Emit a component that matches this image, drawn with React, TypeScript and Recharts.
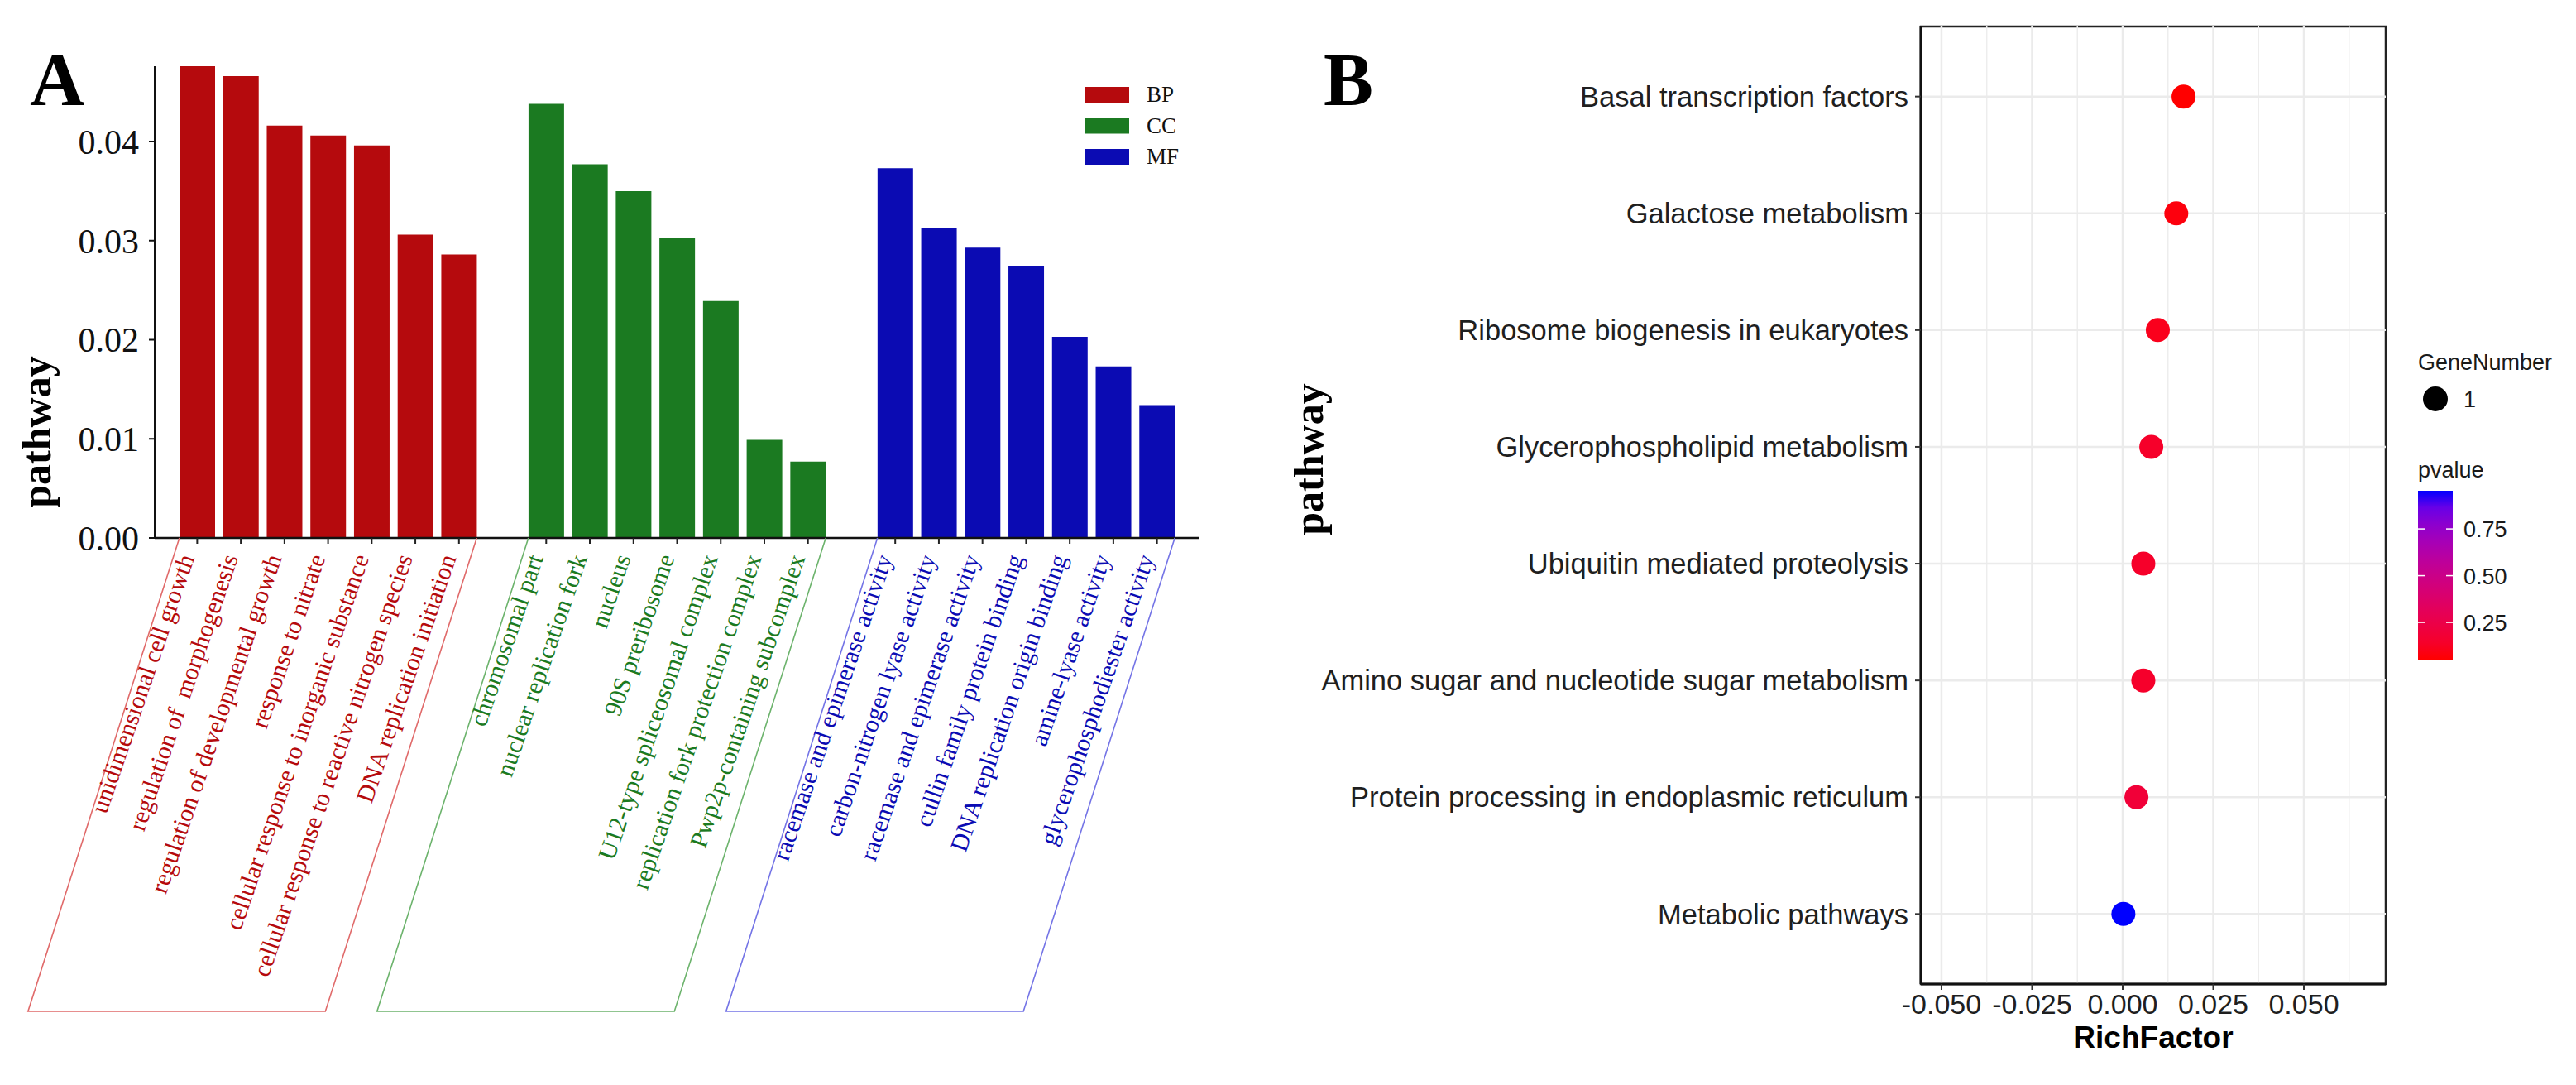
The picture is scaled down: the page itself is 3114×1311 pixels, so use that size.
import { BarChart, Bar, Cell, XAxis, YAxis, ScatterChart, Scatter, ReferenceLine, ReferenceArea } from "recharts"

// ---- panel A: GO enrichment ----
const BP_TERMS = [
  "unidimensional cell growth",
  "regulation of  morphogenesis",
  "regulation of developmental growth",
  "response to nitrate",
  "cellular response to inorganic substance",
  "cellular response to reactive nitrogen species",
  "DNA replication initiation"
]
const BP_VALUES = [0.0476, 0.0466, 0.0416, 0.0406, 0.0396, 0.0306, 0.0286]

const CC_TERMS = [
  "chromosomal part",
  "nuclear replication fork",
  "nucleus",
  "90S preribosome",
  "U12-type spliceosomal complex",
  "replication fork protection complex",
  "Pwp2p-containing subcomplex"
]
const CC_VALUES = [0.0438, 0.0377, 0.035, 0.0303, 0.0239, 0.0099, 0.0077]

const MF_TERMS = [
  "racemase and epimerase activity",
  "carbon-nitrogen lyase activity",
  "racemase and epimerase activity",
  "cullin family protein binding",
  "DNA replication origin binding",
  "amine-lyase activity",
  "glycerophosphodiester activity"
]
const MF_VALUES = [0.0373, 0.0313, 0.0293, 0.0274, 0.0203, 0.0173, 0.0134]

const GO_Y_TICKS = [0, 0.01, 0.02, 0.03, 0.04]

// ---- panel B: KEGG enrichment ----
const PATHWAYS = [
  "Basal transcription factors",
  "Galactose metabolism",
  "Ribosome biogenesis in eukaryotes",
  "Glycerophospholipid metabolism",
  "Ubiquitin mediated proteolysis",
  "Amino sugar and nucleotide sugar metabolism",
  "Protein processing in endoplasmic reticulum",
  "Metabolic pathways"
]
const RICH_FACTOR = [0.0168, 0.0148, 0.0097, 0.0079, 0.0057, 0.0057, 0.0038, 0.0002]
const P_VALUES = [0.051, 0.07, 0.1, 0.14, 0.14, 0.145, 0.19, 0.954]
const GENE_NUMBER = [1, 1, 1, 1, 1, 1, 1, 1]
const RICH_TICKS = [-0.05, -0.025, 0, 0.025, 0.05]
const RICH_MINOR = [-0.0375, -0.0125, 0.0125, 0.0375, 0.0625]
const P_TICKS = [0.25, 0.5, 0.75]

const SERIF = "'Liberation Serif', 'Times New Roman', serif"
const SANS = "'Liberation Sans', Arial, sans-serif"

const GROUPS = [
  { key: "BP", color: "#b50a0d", bracket: "#e06a6a", terms: BP_TERMS, values: BP_VALUES },
  { key: "CC", color: "#1b7a21", bracket: "#6cb36c", terms: CC_TERMS, values: CC_VALUES },
  { key: "MF", color: "#0b0bb3", bracket: "#7474e6", terms: MF_TERMS, values: MF_VALUES }
]

type GoRow = {
  id: string
  value: number | null
  term?: string
  color?: string
  bracket?: string
  pos?: number
  n?: number
}

const goData: GoRow[] = []
GROUPS.forEach((g, gi) => {
  if (gi > 0) goData.push({ id: `gap${gi}`, value: null })
  g.terms.forEach((t, i) =>
    goData.push({
      id: `${g.key}${i}`,
      value: g.values[i],
      term: t,
      color: g.color,
      bracket: g.bracket,
      pos: i,
      n: g.terms.length
    })
  )
})
const goById: Record<string, GoRow> = {}
goData.forEach(d => (goById[d.id] = d))

// layout of panel A
const A_W = 1500
const A_H = 1311
const A_LEFT = 187
const A_RIGHT = 1450
const A_PAD = 25
const BAR = 43
const STEP = (A_RIGHT - A_LEFT - 2 * A_PAD) / goData.length
const BRACKET_DEPTH = 572
const BRACKET_SLANT = 183

function GoTick(props: any) {
  const { x, y, payload } = props
  const d = goById[payload.value]
  if (!d || d.value == null) return null
  let bracket = null
  if (d.pos === 0) {
    const xl = x + ((d.n ?? 1) - 1) * STEP
    const pts = [
      [x - BAR / 2, y],
      [x - BAR / 2 - BRACKET_SLANT, y + BRACKET_DEPTH],
      [xl + BAR / 2 - BRACKET_SLANT, y + BRACKET_DEPTH],
      [xl + BAR / 2, y]
    ]
    bracket = (
      <polyline
        points={pts.map(p => p.join(",")).join(" ")}
        fill="none"
        stroke={d.bracket}
        strokeWidth={1.6}
      />
    )
  }
  return (
    <g>
      {bracket}
      <line x1={x} x2={x} y1={y} y2={y + 7} stroke="#222" strokeWidth={2} />
      <text
        transform={`translate(${x - 3},${y + 24}) rotate(-71)`}
        textAnchor="end"
        fontFamily={SERIF}
        fontSize={30}
        fill={d.color}
        style={{ whiteSpace: "pre" }}
      >
        {d.term}
      </text>
    </g>
  )
}

// ---- colour scale red -> blue interpolated in Lab, like ggplot ----
const toLin = (c: number) => {
  c /= 255
  return c <= 0.04045 ? c / 12.92 : Math.pow((c + 0.055) / 1.055, 2.4)
}
function hexToLab(hex: string) {
  const [r, g, b] = [1, 3, 5].map(i => toLin(parseInt(hex.slice(i, i + 2), 16)))
  const X = (0.4124 * r + 0.3576 * g + 0.1805 * b) / 0.95047
  const Y = 0.2126 * r + 0.7152 * g + 0.0722 * b
  const Z = (0.0193 * r + 0.1192 * g + 0.9505 * b) / 1.08883
  const f = (t: number) => (t > 0.008856 ? Math.cbrt(t) : 7.787 * t + 16 / 116)
  return [116 * f(Y) - 16, 500 * (f(X) - f(Y)), 200 * (f(Y) - f(Z))]
}
function labToHex(L: number, a: number, b: number) {
  const fy = (L + 16) / 116
  const fx = fy + a / 500
  const fz = fy - b / 200
  const fi = (t: number) => (t ** 3 > 0.008856 ? t ** 3 : (t - 16 / 116) / 7.787)
  const X = fi(fx) * 0.95047
  const Y = fi(fy)
  const Z = fi(fz) * 1.08883
  const rl = 3.2406 * X - 1.5372 * Y - 0.4986 * Z
  const gl = -0.9689 * X + 1.8758 * Y + 0.0415 * Z
  const bl = 0.0557 * X - 0.204 * Y + 1.057 * Z
  const gam = (c: number) => {
    const v = c <= 0.0031308 ? 12.92 * c : 1.055 * Math.pow(c, 1 / 2.4) - 0.055
    return Math.round(Math.min(1, Math.max(0, v)) * 255)
  }
  return "#" + [rl, gl, bl].map(c => gam(c).toString(16).padStart(2, "0")).join("")
}
const LOW = hexToLab("#ff0000")
const HIGH = hexToLab("#0000ff")
const P_MIN = Math.min(...P_VALUES)
const P_MAX = Math.max(...P_VALUES)
const mix = (t: number) => labToHex(...(LOW.map((v, i) => v + (HIGH[i] - v) * t) as [number, number, number]))
const pColor = (p: number) => mix((p - P_MIN) / (P_MAX - P_MIN))

const keggData = PATHWAYS.map((name, i) => ({
  name,
  x: RICH_FACTOR[i],
  y: i + 1,
  p: P_VALUES[i],
  genes: GENE_NUMBER[i]
}))

// layout of panel B (chart placed at page x = 1500)
const B_LEFT = 1500
const B_W = 1614
const B_PLOT_L = 822
const B_PLOT_R = 1384
const X_DOMAIN: [number, number] = [-0.0557, 0.0726]
const Y_DOMAIN: [number, number] = [0.4, 8.6]

const KeggDot = (props: any) => {
  const { cx, cy, payload } = props
  return <circle cx={cx} cy={cy} r={14.5} fill={pColor(payload.p)} />
}

// colour bar geometry (page coords)
const CB_X = 2923
const CB_TOP = 593
const CB_H = 204
const CB_W = 42
const cbY = (p: number) => CB_TOP + CB_H - ((p - P_MIN) / (P_MAX - P_MIN)) * CB_H

export default function App() {
  return (
    <div style={{ position: "absolute", left: 0, top: 0, width: 3114, height: 1311, background: "#fff" }}>
      <div style={{ position: "absolute", left: 0, top: 0 }}>
        <BarChart width={A_W} height={A_H} data={goData} margin={{ top: 80, right: A_W - A_RIGHT, bottom: 61, left: 0 }}>
          <XAxis
            dataKey="id"
            type="category"
            height={600}
            padding={{ left: A_PAD, right: A_PAD }}
            interval={0}
            tick={(p: any) => <GoTick {...p} />}
            tickLine={false}
            tickSize={0}
            tickMargin={0}
            axisLine={{ stroke: "#111", strokeWidth: 2.5 }}
          />
          <YAxis
            width={A_LEFT}
            domain={[0, 0.0476]}
            ticks={GO_Y_TICKS}
            tickFormatter={(v: number) => v.toFixed(2)}
            tick={{ fontFamily: SERIF, fontSize: 42, fill: "#111" }}
            tickSize={7}
            tickMargin={12}
            axisLine={{ stroke: "#111", strokeWidth: 2 }}
            tickLine={{ stroke: "#111", strokeWidth: 2 }}
          />
          <Bar dataKey="value" barSize={BAR} isAnimationActive={false}>
            {goData.map(d => (
              <Cell key={d.id} fill={d.color ?? "none"} />
            ))}
          </Bar>
        </BarChart>
      </div>

      <div style={{ position: "absolute", left: B_LEFT, top: 0 }}>
        <ScatterChart width={B_W} height={1311} margin={{ top: 32, right: B_W - B_PLOT_R, bottom: 0, left: 0 }}>
          <XAxis
            type="number"
            dataKey="x"
            domain={X_DOMAIN}
            allowDataOverflow
            ticks={RICH_TICKS}
            tickFormatter={(v: number) => v.toFixed(3)}
            height={122}
            tick={{ fontFamily: SANS, fontSize: 34, fill: "#1f1f1f" }}
            tickSize={7}
            tickMargin={5}
            axisLine={{ stroke: "#111", strokeWidth: 3 }}
            tickLine={{ stroke: "#333", strokeWidth: 2 }}
          />
          <YAxis
            type="number"
            dataKey="y"
            domain={Y_DOMAIN}
            allowDataOverflow
            reversed
            ticks={keggData.map(d => d.y)}
            interval={0}
            tickFormatter={(v: number) => PATHWAYS[v - 1]}
            width={B_PLOT_L}
            tick={{ fontFamily: SANS, fontSize: 34.5, fill: "#1f1f1f" }}
            tickSize={7}
            tickMargin={8}
            axisLine={{ stroke: "#111", strokeWidth: 3 }}
            tickLine={{ stroke: "#333", strokeWidth: 2 }}
          />
          {RICH_MINOR.map(v => (
            <ReferenceLine key={`mn${v}`} x={v} stroke="#ededed" strokeWidth={1.5} />
          ))}
          {RICH_TICKS.map(v => (
            <ReferenceLine key={`mj${v}`} x={v} stroke="#ebebeb" strokeWidth={2.5} />
          ))}
          {keggData.map(d => (
            <ReferenceLine key={`h${d.y}`} y={d.y} stroke="#ebebeb" strokeWidth={2.5} />
          ))}
          <Scatter data={keggData} shape={KeggDot} isAnimationActive={false} />
          <ReferenceArea
            x1={X_DOMAIN[0]}
            x2={X_DOMAIN[1]}
            y1={Y_DOMAIN[0]}
            y2={Y_DOMAIN[1]}
            fill="none"
            fillOpacity={0}
            stroke="#222"
            strokeWidth={2.5}
            ifOverflow="visible"
          />
        </ScatterChart>
      </div>

      {/* titles and legends */}
      <svg width={3114} height={1311} style={{ position: "absolute", left: 0, top: 0, pointerEvents: "none" }}>
        <defs>
          <linearGradient id="pgrad" x1="0" y1="1" x2="0" y2="0">
            {Array.from({ length: 11 }, (_, k) => (
              <stop key={k} offset={k / 10} stopColor={mix(k / 10)} />
            ))}
          </linearGradient>
        </defs>

        <text x={36} y={127} fontFamily={SERIF} fontWeight="bold" fontSize={92}>A</text>
        <text x={1600} y={127} fontFamily={SERIF} fontWeight="bold" fontSize={90}>B</text>

        <text transform="translate(61,522) rotate(-90)" textAnchor="middle" fontFamily={SERIF} fontWeight="bold" fontSize={50}>
          pathway
        </text>
        <text transform="translate(1599,555) rotate(-90)" textAnchor="middle" fontFamily={SERIF} fontWeight="bold" fontSize={50}>
          pathway
        </text>
        <text x={2603} y={1266} textAnchor="middle" fontFamily={SANS} fontWeight="bold" fontSize={37}>
          RichFactor
        </text>

        {GROUPS.map((g, i) => (
          <g key={g.key}>
            <rect x={1312} y={105 + i * 37.5} width={53} height={19} fill={g.color} />
            <text x={1386} y={123 + i * 37.5} fontFamily={SERIF} fontSize={27} fill="#111">
              {g.key}
            </text>
          </g>
        ))}

        <text x={2923} y={447} fontFamily={SANS} fontSize={27} fill="#1a1a1a">GeneNumber</text>
        <circle cx={2944} cy={482} r={15} fill="#000" />
        <text x={2978} y={492} fontFamily={SANS} fontSize={27} fill="#1a1a1a">{GENE_NUMBER[0]}</text>

        <text x={2923} y={577} fontFamily={SANS} fontSize={27} fill="#1a1a1a">pvalue</text>
        <rect x={CB_X} y={CB_TOP} width={CB_W} height={CB_H} fill="url(#pgrad)" />
        {P_TICKS.map(p => (
          <g key={p}>
            <line x1={CB_X} x2={CB_X + 8} y1={cbY(p)} y2={cbY(p)} stroke="#fff" strokeWidth={1.5} />
            <line x1={CB_X + CB_W - 8} x2={CB_X + CB_W} y1={cbY(p)} y2={cbY(p)} stroke="#fff" strokeWidth={1.5} />
            <text x={2978} y={cbY(p) + 10} fontFamily={SANS} fontSize={27} fill="#1a1a1a">
              {p.toFixed(2)}
            </text>
          </g>
        ))}
      </svg>
    </div>
  )
}
